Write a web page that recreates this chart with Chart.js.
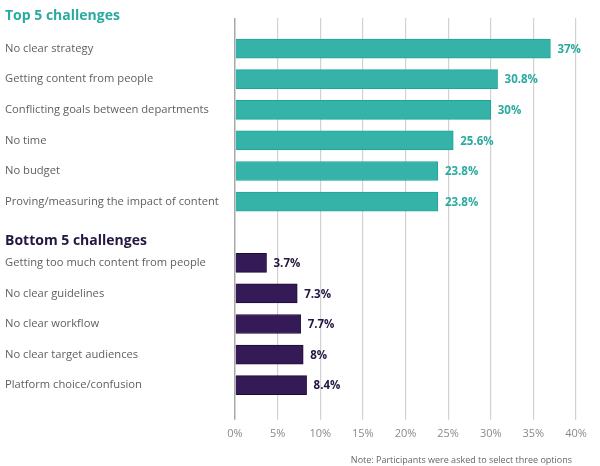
<!DOCTYPE html>
<html>
<head>
<meta charset="utf-8">
<script src="https://cdn.jsdelivr.net/npm/chart.js@4.4.0/dist/chart.umd.min.js"></script>
<style>
  html, body { margin: 0; padding: 0; background: #ffffff; }
  #wrap { width: 600px; height: 466px; position: relative; }
</style>
</head>
<body>
<div id="wrap"><canvas id="c" width="600" height="466"></canvas></div>
<script>
// ---- data ----
const groupTitles = ["Top 5 challenges", "Bottom 5 challenges"];
const topCategories = [
  "No clear strategy",
  "Getting content from people",
  "Conflicting goals between departments",
  "No time",
  "No budget",
  "Proving/measuring the impact of content"
];
const topValues = [37, 30.8, 30, 25.6, 23.8, 23.8];
const bottomCategories = [
  "Getting too much content from people",
  "No clear guidelines",
  "No clear workflow",
  "No clear target audiences",
  "Platform choice/confusion"
];
const bottomValues = [3.7, 7.3, 7.7, 8, 8.4];
const xTickValues = [0, 5, 10, 15, 20, 25, 30, 35, 40];
const noteText = "Note: Participants were asked to select three options";

// ---- build category axis: heading slot, top rows, heading slot, bottom rows, end slot ----
const labels = [""].concat(topCategories, [""], bottomCategories, [""]);
const topData = [null].concat(topValues, [null], bottomCategories.map(() => null), [null]);
const bottomData = [null].concat(topCategories.map(() => null), [null], bottomValues, [null]);

const TEAL = "#36b3a8", TEAL_BORDER = "#1fa496", TEAL_TEXT = "#2aab9f";
const PURPLE = "#341a57", PURPLE_BORDER = "#1c0e33", PURPLE_TEXT = "#241641";

const fmt = v => (Math.round(v * 10) / 10) + "%";

const extrasPlugin = {
  id: "extras",
  afterDatasetsDraw(chart) {
    const ctx = chart.ctx;
    ctx.save();
    ctx.textBaseline = "middle";
    ctx.textAlign = "left";
    ctx.font = "bold 11.5px 'Open Sans'";
    chart.data.datasets.forEach((ds, di) => {
      const meta = chart.getDatasetMeta(di);
      meta.data.forEach((el, i) => {
        const v = ds.data[i];
        if (v === null || v === undefined) return;
        ctx.fillStyle = ds.valueColor;
        ctx.fillText(fmt(v), el.x + 7, el.y + 1);
      });
    });
    ctx.restore();
  },
  afterDraw(chart) {
    const ctx = chart.ctx;
    const y = chart.scales.y;
    ctx.save();
    ctx.textBaseline = "middle";
    ctx.textAlign = "left";
    ctx.font = "bold 14px 'Open Sans'";
    ctx.fillStyle = TEAL_TEXT;
    ctx.fillText(groupTitles[0], 5, y.getPixelForValue(0) - 2);
    ctx.fillStyle = PURPLE_TEXT;
    ctx.fillText(groupTitles[1], 5, y.getPixelForValue(topCategories.length + 1) + 9);
    ctx.font = "9px 'Open Sans'";
    ctx.fillStyle = "#666666";
    ctx.textAlign = "right";
    ctx.fillText(noteText, 572, 460);
    ctx.restore();
  }
};

new Chart(document.getElementById("c"), {
  type: "bar",
  data: {
    labels: labels,
    datasets: [
      { data: topData, backgroundColor: TEAL, borderColor: TEAL_BORDER, borderWidth: 1, valueColor: TEAL_TEXT },
      { data: bottomData, backgroundColor: PURPLE, borderColor: PURPLE_BORDER, borderWidth: 1, valueColor: PURPLE_TEXT }
    ]
  },
  options: {
    indexAxis: "y",
    responsive: false,
    animation: false,
    grouped: false,
    barThickness: 19,
    layout: { padding: { left: 5, right: 24, top: 18, bottom: 19 } },
    plugins: { legend: { display: false }, tooltip: { enabled: false } },
    scales: {
      x: {
        type: "linear",
        min: xTickValues[0],
        max: xTickValues[xTickValues.length - 1],
        afterBuildTicks(scale) { scale.ticks = xTickValues.map(v => ({ value: v })); },
        ticks: {
          callback: v => v + "%",
          color: "#8a8a8a",
          font: { family: "'Open Sans'", size: 11 },
          padding: 7
        },
        grid: {
          color: ctx => ctx.tick && ctx.tick.value === 0 ? "#a8a8a8" : "#d2d2d2",
          lineWidth: ctx => ctx.tick && ctx.tick.value === 0 ? 1.5 : 1.2,
          tickLength: 4,
          drawTicks: true
        },
        border: { display: false }
      },
      y: {
        offset: false,
        afterFit(scale) { scale.width = 230; },
        ticks: {
          crossAlign: "far",
          color: "#5f5f5f",
          font: { family: "'Open Sans'", size: 11.2 },
          autoSkip: false
        },
        grid: { display: false, drawTicks: false },
        border: { display: false }
      }
    }
  },
  plugins: [extrasPlugin]
});
</script>
</body>
</html>
